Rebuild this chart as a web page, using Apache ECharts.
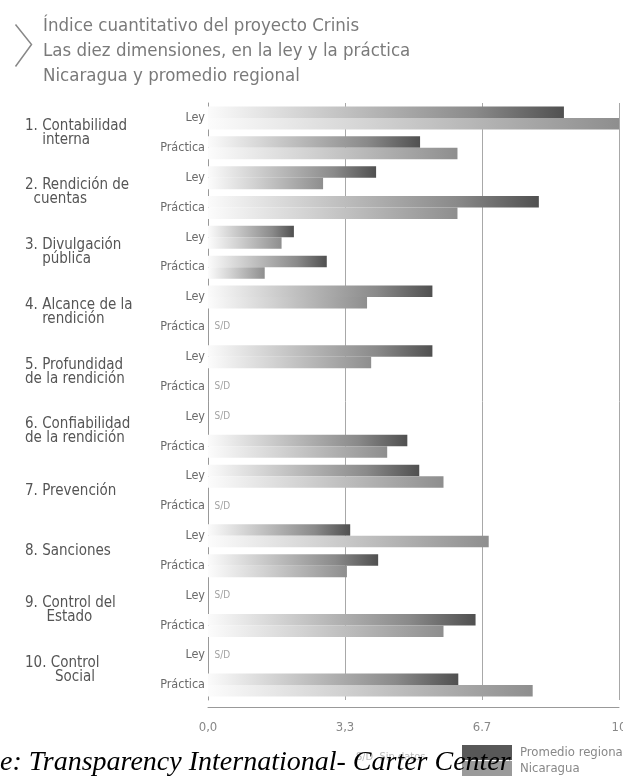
<!DOCTYPE html>
<html>
<head>
<meta charset="utf-8">
<script src="https://cdn.jsdelivr.net/npm/echarts@6/dist/echarts.min.js"></script>
<style>
  html, body { margin: 0; padding: 0; background: #fff; }
  #container { width: 623px; height: 782px; }
</style>
</head>
<body>
<div id="container"></div>
<script>
// filas: Ley / Práctica por dimensión
var rowLabels = ['Ley', 'Práctica', 'Ley', 'Práctica', 'Ley', 'Práctica', 'Ley', 'Práctica', 'Ley', 'Práctica',
                 'Ley', 'Práctica', 'Ley', 'Práctica', 'Ley', 'Práctica', 'Ley', 'Práctica', 'Ley', 'Práctica'];
var dimensions = [
  '1. Contabilidad\n    interna',
  '2. Rendición de\n  cuentas',
  '3. Divulgación\n    pública',
  '4. Alcance de la\n    rendición',
  '5. Profundidad\nde la rendición',
  '6. Confiabilidad\nde la rendición',
  '7. Prevención',
  '8. Sanciones',
  '9. Control del\n     Estado',
  '10. Control\n       Social'
];
// null = S/D (sin datos)
var promedioRegional = [8.66, 5.16, 4.09, 8.05, 2.09, 2.89, 5.46, null, 5.46, null,
                        null, 4.85, 5.14, null, 3.46, 4.14, null, 6.51, null, 6.09];
var nicaragua = [10.0, 6.07, 2.80, 6.07, 1.79, 1.38, 3.87, null, 3.97, null,
                 null, 4.36, 5.73, null, 6.83, 3.38, null, 5.73, null, 7.90];
var xTickLabels = ['0,0', '3,3', '6.7', '10'];

var sinDatos = promedioRegional.map(function (v) { return v == null ? 0 : '-'; });

var dom = document.getElementById('container');
var myChart = echarts.init(dom, null, { renderer: 'canvas' });

var narrow = '"Liberation Sans Narrow", "DejaVu Sans Condensed", sans-serif';

var option = {
  backgroundColor: '#fff',
  animation: false,
  title: {
    text: 'Índice cuantitativo del proyecto Crinis\nLas diez dimensiones, en la ley y la práctica\nNicaragua y promedio regional',
    left: 38, top: 9,
    textStyle: { fontFamily: narrow, fontSize: 18.5, lineHeight: 25, fontWeight: 'normal', color: '#7a7a7a' }
  },
  legend: {
    orient: 'vertical',
    left: 462, top: 745, padding: 0,
    itemWidth: 50, itemHeight: 15, itemGap: 1,
    icon: 'rect',
    textStyle: { fontFamily: narrow, fontSize: 13, color: '#888', padding: [0, 0, 0, 3] },
    data: [
      { name: 'Promedio regional', itemStyle: { color: '#585858' } },
      { name: 'Nicaragua', itemStyle: { color: '#9a9a9a' } }
    ]
  },
  grid: { left: 208, right: 4, top: 103, bottom: 82, outerBoundsMode: 'none' },
  xAxis: {
    type: 'value', min: 0, max: 10, interval: 10 / 3,
    offset: 7,
    axisLine: { show: true, lineStyle: { color: '#999' } },
    axisTick: { show: false },
    splitLine: { show: true, lineStyle: { color: '#a8a8a8' } },
    axisLabel: {
      margin: 14, fontFamily: narrow, fontSize: 13, color: '#888',
      formatter: function (v, i) { return xTickLabels[i]; }
    }
  },
  yAxis: [
    {
      type: 'category', data: rowLabels, inverse: true,
      axisLine: { show: true, lineStyle: { color: '#999' } },
      axisTick: { show: false },
      axisLabel: { margin: 3, fontFamily: narrow, fontSize: 12.5, color: '#6a6a6a' }
    },
    {
      type: 'category', data: dimensions, inverse: true, position: 'left',
      axisLine: { show: false }, axisTick: { show: false },
      axisLabel: { margin: 183, align: 'left', fontFamily: narrow, fontSize: 15, lineHeight: 14, color: '#555' }
    }
  ],
  series: [
    {
      name: 'Promedio regional', type: 'bar', yAxisIndex: 0,
      barWidth: 11.5, barGap: '0%',
      itemStyle: {
        color: new echarts.graphic.LinearGradient(0, 0, 1, 0, [
          { offset: 0, color: '#fbfbfb' },
          { offset: 0.35, color: '#c6c6c6' },
          { offset: 0.75, color: '#8a8a8a' },
          { offset: 1, color: '#505050' }
        ])
      },
      data: promedioRegional
    },
    {
      name: 'Nicaragua', type: 'bar', yAxisIndex: 0,
      barWidth: 11.5,
      itemStyle: {
        color: new echarts.graphic.LinearGradient(0, 0, 1, 0, [
          { offset: 0, color: '#fcfcfc' },
          { offset: 0.4, color: '#d2d2d2' },
          { offset: 1, color: '#8e8e8e' }
        ])
      },
      data: nicaragua
    },
    {
      name: 'S/D', type: 'scatter', yAxisIndex: 0,
      symbolSize: 1, itemStyle: { color: 'rgba(0,0,0,0)' },
      label: { show: true, position: 'right', distance: 6, formatter: 'S/D', fontFamily: narrow, fontSize: 10, color: '#888' },
      data: sinDatos
    }
  ],
  graphic: [
    {
      type: 'polyline', left: 13, top: 22,
      shape: { points: [[0, 0], [16, 20], [0, 42]] },
      style: { stroke: '#888', lineWidth: 1.5, fill: null }
    },
    {
      type: 'text', left: 356, top: 752,
      style: { text: 'S/D  Sin datos', fontFamily: narrow, fontSize: 11, fill: '#bbb' }
    },
    {
      type: 'text', left: 0, top: 749, z: 100,
      style: { text: 'e: Transparency International- Carter Center', fontFamily: '"Liberation Serif", serif', fontStyle: 'italic', fontSize: 28, fill: '#000' }
    }
  ]
};

myChart.setOption(option);
window.addEventListener('resize', myChart.resize);
</script>
</body>
</html>
